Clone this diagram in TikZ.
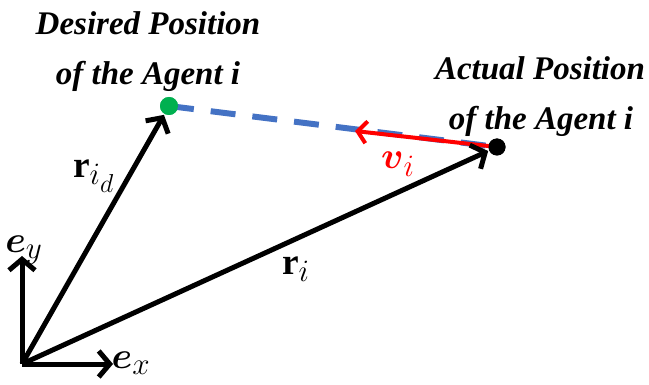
\documentclass[tikz,border=0pt]{standalone}
\usepackage{amsmath,amsbsy}
\usepackage{fontspec}
\setmainfont{Liberation Serif}
\usetikzlibrary{arrows.meta}
\definecolor{dashblue}{RGB}{68,114,196}
\definecolor{dotgreen}{RGB}{0,176,80}
\begin{document}
\begin{tikzpicture}[x=1pt,y=-1pt,
  vec/.style={line width=5pt,-{Straight Barb[length=11pt,width=26pt]}},
  title/.style={font=\fontsize{33}{40}\selectfont\bfseries\itshape,anchor=base,inner sep=0pt},
  mlab/.style={font=\Huge,scale=1.5,inner sep=0pt},
  dot/.style={circle,inner sep=0pt,minimum size=#1}]
\useasboundingbox (0,0) rectangle (649,385);
% points
\coordinate (O) at (22,364);
\node[dot=18pt,fill=dotgreen] (G) at (169,106) {};
\node[dot=17pt,fill=black] (A) at (497,147) {};
\coordinate (ex) at (113,364);
\coordinate (ey) at (22,256);
\coordinate (vtip) at (355,131);
% dashed line and velocity
\draw[dashblue,line width=6pt,dash pattern=on 25pt off 17pt] (G.center) -- (A.center);
\draw[red,line width=4pt,-{Straight Barb[length=9pt,width=22pt]}] (A.center) -- (vtip);
% vectors
\draw[vec,shorten >=1pt] (O) -- (G);
\draw[vec,shorten >=1pt] (O) -- (A);
\draw[vec] (O) -- (ex);
\draw[vec] (O) -- (ey);
\node[dot=18pt,fill=dotgreen] at (G) {};
\node[dot=17pt,fill=black] at (A) {};
% labels
\node[title] (d1) at (148,35) {Desired Position};
\node[title] (d2) at (148,85) {of the Agent i};
\node[title] (a1) at (540,80) {Actual Position};
\node[title] (a2) at (541,130) {of the Agent i};
\node[mlab] (lrid) at (94,176) {$\mathbf{r}_{i_d}$};
\node[mlab] (lri) at (296,269) {$\mathbf{r}_i$};
\node[mlab,text=red] (lvi) at (398,164) {$\boldsymbol{v}_i$};
\node[mlab] (ley) at (24,250) {$\boldsymbol{e}_y$};
\node[mlab] (lex) at (131,363) {$\boldsymbol{e}_x$};
\end{tikzpicture}
\end{document}
